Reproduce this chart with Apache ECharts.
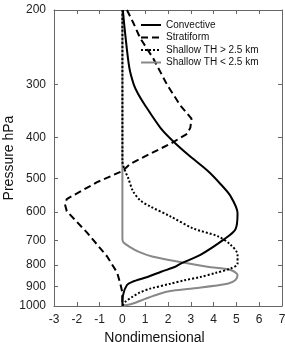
<!DOCTYPE html>
<html>
<head>
<meta charset="utf-8">
<script src="https://cdn.jsdelivr.net/npm/echarts@6/dist/echarts.min.js"></script>
<style>
  html, body { margin: 0; padding: 0; background: #fff; }
  #main { width: 285px; height: 342px; }
</style>
</head>
<body>
<div id="main"></div>
<script>
var myChart = echarts.init(document.getElementById('main'));

// pressure levels (hPa) and nondimensional values
var convP = [200, 227, 273, 300, 315, 333, 379, 407, 440, 480, 515, 550, 604, 659, 697, 757, 795, 808, 830, 854, 877, 892, 942, 1000];
var convX = [0.02, 0.12, 0.3, 0.5, 0.68, 0.95, 1.66, 2.2, 2.9, 3.75, 4.3, 4.74, 5.05, 4.96, 4.44, 3.42, 2.54, 2.32, 1.7, 1.1, 0.43, 0.2, 0.03, 0];

var stratP = [200, 214, 233, 260, 301, 336, 361, 379, 392, 414, 437, 462, 480, 510, 559, 575, 597, 671, 764, 834, 882, 926, 1000];
var stratX = [0.2, 0.47, 0.78, 1.35, 1.97, 2.54, 3.03, 2.98, 2.85, 2.1, 1.22, 0.34, 0, -1.11, -2.44, -2.52, -2.44, -1.55, -0.67, -0.23, -0.1, -0.01, 0];

var deepP = [200, 455, 480, 498, 536, 563, 582, 614, 656, 684, 716, 757, 795, 816, 835, 854, 870, 886, 910, 930, 952, 978, 1000];
var deepX = [0, 0, 0.12, 0.25, 0.47, 0.78, 1.22, 2.1, 3.11, 4.17, 4.74, 5.05, 5.05, 4.74, 4.1, 3.42, 2.7, 2.1, 1.22, 0.75, 0.43, 0.12, 0];

var lowP = [200, 690, 700, 708, 724, 744, 764, 787, 808, 822, 845, 868, 886, 910, 922, 937, 962, 988, 1000];
var lowX = [0, 0, 0.01, 0.05, 0.3, 0.7, 1.3, 2.54, 3.73, 4.74, 5.05, 4.96, 4.61, 2.98, 2.1, 1.6, 1.0, 0.43, 0];

var seriesNames = ['Convective', 'Stratiform', 'Shallow TH > 2.5 km', 'Shallow TH < 2.5 km'];
var pressureTicks = [200, 300, 400, 500, 600, 700, 800, 900, 1000];

function pairs(xs, ps) {
    return xs.map(function (v, i) { return [v, ps[i]]; });
}

var font = 'Liberation Sans';
var frame = '#666';

var option = {
    backgroundColor: '#fff',
    animation: false,
    textStyle: { fontFamily: font },
    grid: { left: 54, right: 3, top: 10, bottom: 36, outerBoundsMode: 'none', containLabel: false },
    legend: {
        orient: 'vertical',
        left: 140,
        top: 20,
        padding: 0,
        itemWidth: 20,
        itemHeight: 8,
        itemGap: 2.5,
        itemStyle: { opacity: 0 },
        textStyle: { fontSize: 10, color: '#111', fontFamily: font, lineHeight: 10 },
        data: seriesNames
    },
    xAxis: [{
        type: 'value',
        min: -3, max: 7, interval: 1,
        name: 'Nondimensional',
        nameLocation: 'middle',
        nameGap: 22,
        nameTextStyle: { fontSize: 14, color: '#111', padding: [0, 27, 0, 0] },
        axisLine: { onZero: false, lineStyle: { color: frame } },
        axisTick: { inside: true, length: 4, lineStyle: { color: frame } },
        axisLabel: { fontSize: 12, color: '#222', margin: 8 },
        splitLine: { show: false }
    }, {
        type: 'value',
        position: 'top',
        min: -3, max: 7, interval: 1,
        axisLine: { onZero: false, lineStyle: { color: frame } },
        axisTick: { inside: true, length: 4, lineStyle: { color: frame } },
        axisLabel: { show: false },
        splitLine: { show: false }
    }],
    yAxis: [{
        type: 'log',
        logBase: 10,
        min: 200, max: 1000,
        inverse: true,
        name: 'Pressure hPa',
        nameLocation: 'middle',
        nameGap: 38,
        nameMoveOverlap: false,
        nameTextStyle: { fontSize: 14, color: '#111' },
        axisLine: { show: true, onZero: false, lineStyle: { color: frame } },
        axisTick: { show: true, inside: true, length: 4, customValues: pressureTicks, lineStyle: { color: frame } },
        axisLabel: {
            fontSize: 12, color: '#222', margin: 8, customValues: pressureTicks,
            formatter: function (v) { return String(Math.round(v)); }
        },
        splitLine: { show: false },
        minorTick: { show: false }
    }, {
        type: 'log',
        logBase: 10,
        position: 'right',
        min: 200, max: 1000,
        inverse: true,
        axisLine: { show: true, onZero: false, lineStyle: { color: frame } },
        axisTick: { show: true, inside: true, length: 4, customValues: pressureTicks, lineStyle: { color: frame } },
        axisLabel: { show: false },
        splitLine: { show: false }
    }],
    series: [{
        name: seriesNames[0],
        type: 'line',
        symbol: 'none',
        smooth: 0.3,
        lineStyle: { color: '#000', width: 2 },
        itemStyle: { color: '#000' },
        data: pairs(convX, convP),
        z: 4
    }, {
        name: seriesNames[1],
        type: 'line',
        symbol: 'none',
        lineStyle: { color: '#000', width: 2, type: [7, 4] },
        itemStyle: { color: '#000' },
        data: pairs(stratX, stratP),
        z: 3
    }, {
        name: seriesNames[2],
        type: 'line',
        symbol: 'none',
        smooth: 0.3,
        lineStyle: { color: '#000', width: 2, type: [2, 2] },
        itemStyle: { color: '#000' },
        data: pairs(deepX, deepP),
        z: 2
    }, {
        name: seriesNames[3],
        type: 'line',
        symbol: 'none',
        smooth: 0.3,
        lineStyle: { color: '#888', width: 2 },
        itemStyle: { color: '#888' },
        data: pairs(lowX, lowP),
        z: 1
    }]
};
myChart.setOption(option);
</script>
</body>
</html>
